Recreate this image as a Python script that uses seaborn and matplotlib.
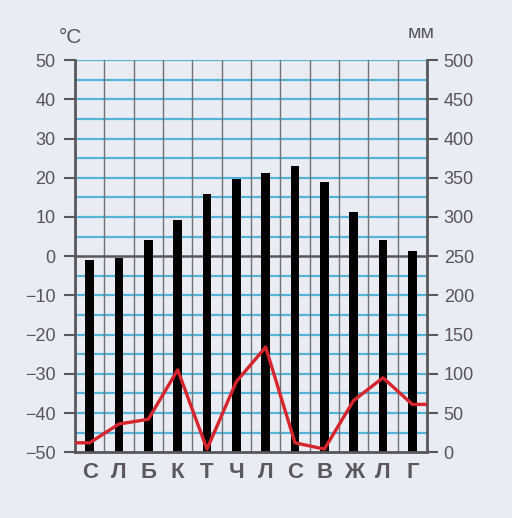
import numpy as np
import pandas as pd
import matplotlib
matplotlib.use("Agg")
import matplotlib.pyplot as plt
import seaborn as sns

# months (Ukrainian abbreviations)
months = ["С", "Л", "Б", "К", "Т", "Ч", "Л", "С", "В", "Ж", "Л", "Г"]
# bars, read on the left axis (°C), drawn up from -50
temps = [-1.0, -0.5, 4.0, 9.3, 15.8, 19.7, 21.2, 23.0, 19.0, 11.2, 4.1, 1.3]
# red line, read on the right axis (mm)
precip = [12, 36, 42, 105, 4, 90, 134, 12, 4, 66, 95, 61]

t_ticks = list(range(-50, 51, 10))
mm_ticks = list(range(0, 501, 50))
t_base = -50

paper = "#eaecf3"
grid_blue = "#55b3d8"
dark = "#58585c"

sns.set_theme(style="white")
plt.rcParams["font.family"] = ["Liberation Sans", "DejaVu Sans"]

fig = plt.figure(figsize=(5.12, 5.18), dpi=100, facecolor=paper)
ax = fig.add_axes([0.1465, 0.127, 0.6875, 0.757])
ax.set_facecolor(paper)

pos = np.arange(len(months))
df = pd.DataFrame({"pos": pos, "height": np.array(temps) - t_base})

# grid: blue every 5 degrees, grey month boundaries
for v in range(-45, 51, 5):
    if v != 0:
        ax.axhline(v, color=grid_blue, lw=1.6, zorder=0)
for x in np.arange(-0.5, 12, 1.0):
    ax.axvline(x, color="#707075", lw=1.0, zorder=0)
ax.axhline(0, color=dark, lw=1.8, zorder=1)

sns.barplot(data=df, x="pos", y="height", bottom=t_base, color="black",
            width=0.3, saturation=1, edgecolor="none", ax=ax, zorder=2)

ax.set_xlim(-0.5, 11.5)
ax.set_ylim(-50, 50)
ax.set_yticks(t_ticks)
ax.set_xticks(pos)
ax.set_xticklabels(months, fontsize=16, fontweight="bold", color="#5a5a5e",
                   family=["Liberation Sans Narrow", "Liberation Sans", "DejaVu Sans"])
ax.set_xlabel("")
ax.set_ylabel("")
ax.tick_params(axis="y", length=8, width=1.5, color=dark, labelsize=13,
               labelcolor="#55555a", pad=6, left=True)
ax.tick_params(axis="x", length=0, pad=7)

for side in ["left", "bottom"]:
    ax.spines[side].set_color(dark)
    ax.spines[side].set_linewidth(2)
ax.spines["top"].set_visible(False)
ax.spines["right"].set_visible(False)

ax2 = ax.twinx()
xs = [-0.45] + list(pos) + [11.5]
ys = [precip[0]] + precip + [precip[-1]]
sns.lineplot(x=xs, y=ys, ax=ax2, color="#d6252d", lw=2.4, sort=False, zorder=3)
ax2.set_ylim(0, 500)
ax2.set_xlim(-0.5, 11.5)
ax2.set_yticks(mm_ticks)
ax2.tick_params(axis="y", length=8, width=1.5, color=dark, labelsize=13,
                labelcolor="#55555a", pad=4, right=True)
ax2.set_ylabel("")
ax2.grid(False)
for side in ["left", "top", "bottom"]:
    ax2.spines[side].set_visible(False)
ax2.spines["right"].set_color(dark)
ax2.spines["right"].set_linewidth(2)

fig.text(0.137, 0.91, "°C", fontsize=15, color="#55555a", ha="center", va="bottom")
fig.text(0.822, 0.918, "мм", fontsize=14, color="#55555a", ha="center", va="bottom")

fig.savefig("out.png", dpi=100, facecolor=paper)
